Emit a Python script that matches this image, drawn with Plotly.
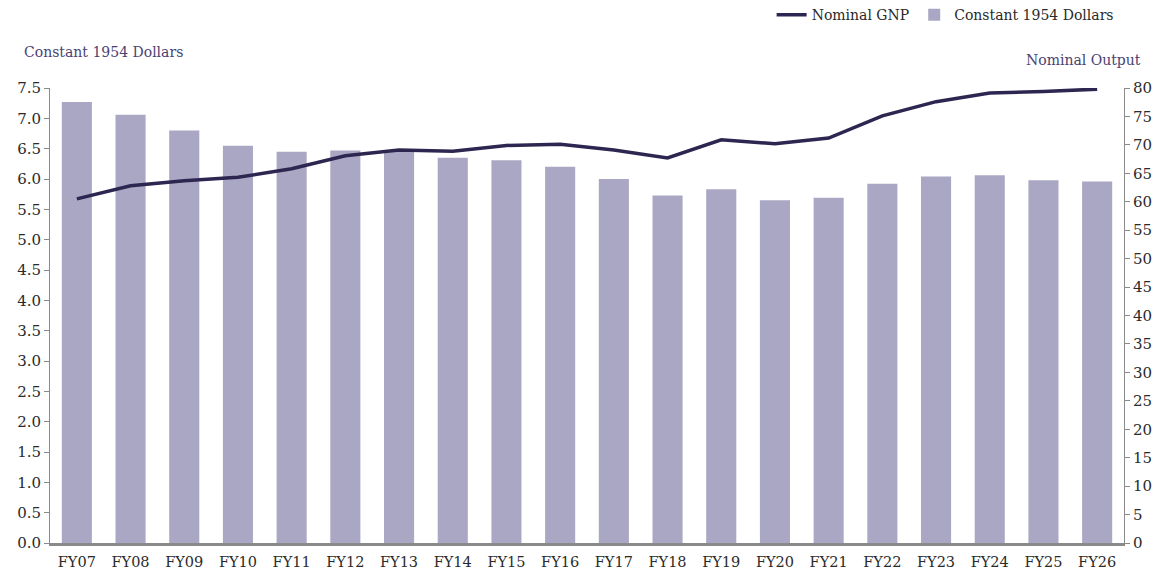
import plotly.graph_objects as go

# Fiscal years
years = ['FY07', 'FY08', 'FY09', 'FY10', 'FY11', 'FY12', 'FY13', 'FY14', 'FY15', 'FY16',
         'FY17', 'FY18', 'FY19', 'FY20', 'FY21', 'FY22', 'FY23', 'FY24', 'FY25', 'FY26']

# Constant 1954 dollars (left axis, bars)
constant_1954 = [7.27, 7.06, 6.80, 6.55, 6.45, 6.47, 6.48, 6.35, 6.31, 6.20,
                 6.00, 5.73, 5.83, 5.65, 5.69, 5.92, 6.04, 6.06, 5.98, 5.96]

# Nominal GNP (right axis, line)
nominal_gnp = [60.5, 62.8, 63.7, 64.3, 65.8, 68.1, 69.1, 68.9, 69.9, 70.1,
               69.1, 67.7, 70.9, 70.2, 71.2, 75.1, 77.6, 79.1, 79.4, 79.8]

font_family = 'DejaVu Serif'
title_color = '#4a4272'

fig = go.Figure()

fig.add_trace(go.Bar(x=years,
                     y=constant_1954,
                     name='Constant 1954 Dollars',
                     marker=dict(color='#a9a7c3', line=dict(width=0)),
                     legendrank=2))

fig.add_trace(go.Scatter(x=years,
                         y=nominal_gnp,
                         yaxis='y2',
                         mode='lines',
                         name='Nominal GNP',
                         line=dict(color='#2d2650', width=3.5),
                         legendrank=1))

# page body adds an 8px offset, so margins are shifted to compensate
fig.update_layout(width=1164, height=575,
                  margin=dict(l=42, r=48, t=80, b=40, autoexpand=False),
                  plot_bgcolor='white',
                  paper_bgcolor='white',
                  bargap=0.44,
                  font=dict(family=font_family, size=14, color='#2a2a2a'),
                  legend=dict(orientation='h',
                              x=0.995, xanchor='right',
                              y=1.16, yanchor='middle',
                              font=dict(size=14, color='#2a2a2a'),
                              bgcolor='rgba(0,0,0,0)',
                              itemwidth=30),
                  xaxis=dict(showline=True, linecolor='#8a8a8a', linewidth=3,
                             ticks='', showgrid=False, automargin=False,
                             ticklabelstandoff=4,
                             tickfont=dict(size=14.5)),
                  yaxis=dict(range=[0, 7.5], dtick=0.5, tickformat='.1f',
                             showgrid=False, zeroline=False, automargin=False,
                             showline=True, linecolor='#8a8a8a', linewidth=1,
                             ticks='outside', ticklen=5, tickcolor='#8a8a8a',
                             tickfont=dict(size=15)),
                  yaxis2=dict(range=[0, 80], dtick=5, overlaying='y', side='right',
                              showgrid=False, zeroline=False, automargin=False,
                              showline=True, linecolor='#8a8a8a', linewidth=1,
                              ticks='outside', ticklen=5, tickcolor='#8a8a8a',
                              tickfont=dict(size=15)),
                  annotations=[
                      dict(text='Constant 1954 Dollars', xref='paper', yref='paper',
                           x=-0.026, y=1.079, xanchor='left', yanchor='middle',
                           showarrow=False, font=dict(size=14, color=title_color)),
                      dict(text='Nominal Output', xref='paper', yref='paper',
                           x=1.018, y=1.061, xanchor='right', yanchor='middle',
                           showarrow=False, font=dict(size=14, color=title_color)),
                  ])

fig.write_html('out.html')
